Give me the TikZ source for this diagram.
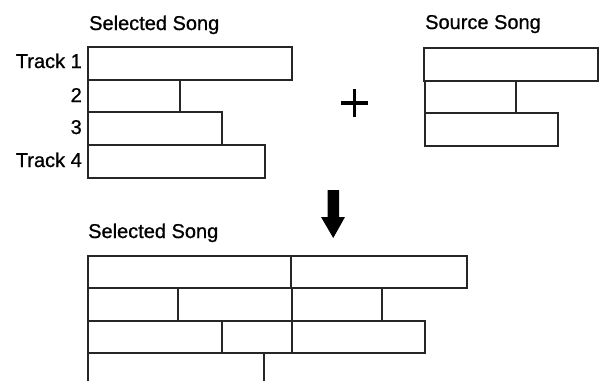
\documentclass[tikz,border=0pt]{standalone}
\usepackage{fontspec}
\setmainfont[FakeBold=0.8]{Liberation Sans}
\begin{document}
\begin{tikzpicture}[x=1pt,y=-1pt,
  bar/.style={draw=black!85,line width=1.4pt},
  lbl/.style={inner sep=0pt,font=\fontsize{20}{22}\selectfont},
  arrowfill/.style={fill=black,draw=none}]
\useasboundingbox (0,0) rectangle (599,380);
\clip (0,0) rectangle (599,380);
% labels
\node[lbl,anchor=base west] (selTitle) at (89,30) {Selected Song};
\node[lbl,anchor=base west] (srcTitle) at (425,29) {Source Song};
\node[lbl,anchor=base east] (t1) at (82,68) {Track 1};
\node[lbl,anchor=base east] (t2) at (82,102) {2};
\node[lbl,anchor=base east] (t3) at (82,134) {3};
\node[lbl,anchor=base east] (t4) at (82,167) {Track 4};
\node[lbl,anchor=base west] (resTitle) at (88,238) {Selected Song};
% selected song tracks
\draw[bar] (88,47) rectangle (292,80);
\draw[bar] (88,80) rectangle (180,112);
\draw[bar] (88,112) rectangle (222,145);
\draw[bar] (88,145) rectangle (265,178);
% source song tracks
\draw[bar] (424,48) rectangle (598,81);
\draw[bar] (425,81) rectangle (516,113);
\draw[bar] (425,113) rectangle (558,146);
% plus sign
\draw[line width=3.2pt] (341,103) -- (368,103);
\draw[line width=3.2pt] (354.5,89) -- (354.5,117);
% arrow
\fill[arrowfill] (327.5,190) -- (339,190) -- (339,217) -- (345,217) -- (333.25,238) -- (321,217) -- (327.5,217) -- cycle;
% resulting song
\draw[bar] (88,256) rectangle (291,288);
\draw[bar] (291,256) rectangle (467,288);
\draw[bar] (88,288) rectangle (178,321);
\draw[bar] (178,288) rectangle (292,321);
\draw[bar] (292,288) rectangle (382,321);
\draw[bar] (88,321) rectangle (222,353);
\draw[bar] (222,321) rectangle (292,353);
\draw[bar] (292,321) rectangle (425,353);
\draw[bar] (88,353) rectangle (264,395);
\end{tikzpicture}
\end{document}
